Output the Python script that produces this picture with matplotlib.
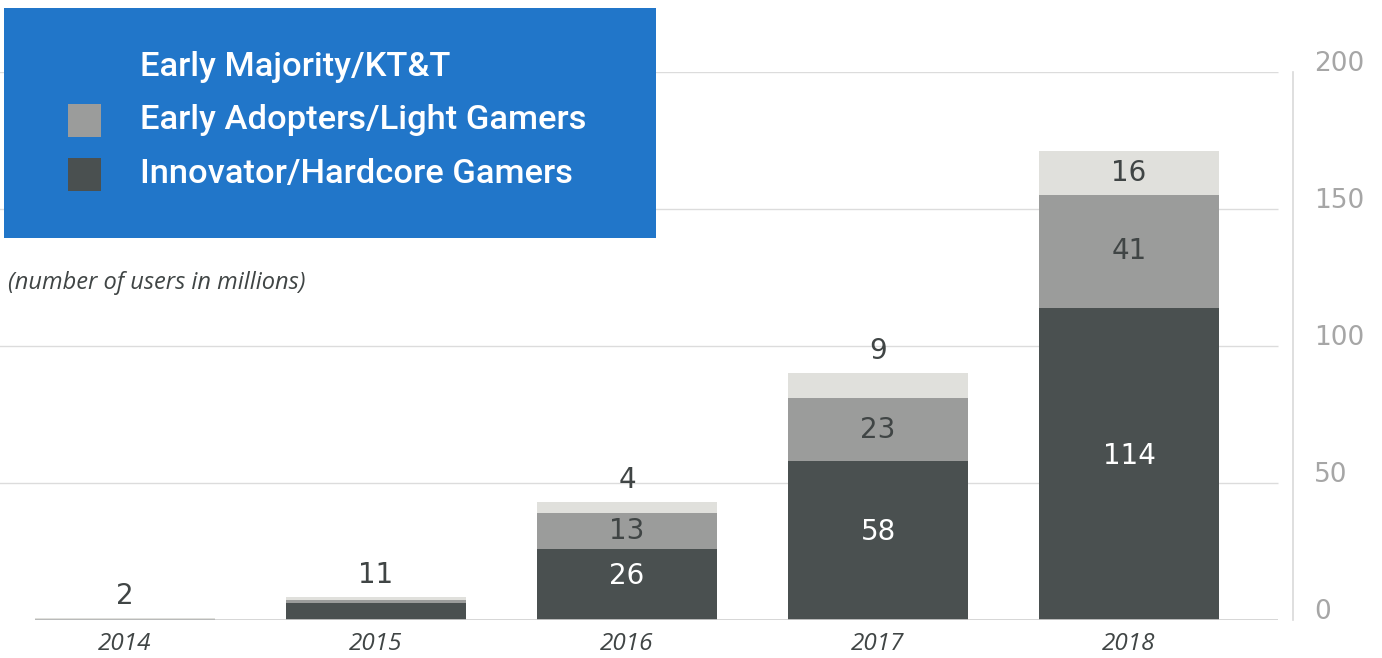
import matplotlib
matplotlib.use("Agg")
import matplotlib.pyplot as plt
import matplotlib.transforms as mtransforms
from matplotlib.patches import Rectangle

# ---- data (millions of users) -----------------------------------------------
years = ["2014", "2015", "2016", "2017", "2018"]
innovators = [0.3, 6.2, 26, 58, 114]
early_adopters = [0.2, 1.2, 13, 23, 41]
early_majority = [0.1, 1.0, 4, 9, 16]
top_labels = ["2", "11", "4", "9", "16"]
series_names = ["Early Majority/KT&T", "Early Adopters/Light Gamers", "Innovator/Hardcore Gamers"]
yticks = [0, 50, 100, 150, 200]

DARK = "#4a5050"
GRAY = "#9b9c9b"
LIGHT = "#e0e0dc"
BLUE = "#2176c9"
TEXT = "#404545"
NUM_FONT = "DejaVu Sans"

W, H = 1382, 658
fig = plt.figure(figsize=(W / 100, H / 100), dpi=100)
ax = fig.add_axes([0, (H - 620) / H, 1293 / W, (620 - 72) / H])

x = list(range(len(years)))
width = 0.72
bottom2 = innovators
bottom3 = [a + b for a, b in zip(innovators, early_adopters)]
totals = [a + b for a, b in zip(bottom3, early_majority)]

ax.bar(x, innovators, width, color=DARK, zorder=3)
ax.bar(x, early_adopters, width, bottom=bottom2, color=GRAY, zorder=3)
ax.bar(x, early_majority, width, bottom=bottom3, color=LIGHT, zorder=3)

ax.set_xlim(-0.498, 4.653)
ax.set_ylim(0, 200)

# gridlines stop short of the right axis line
grid_end = 4.594
ax.hlines(yticks[1:], -0.6, grid_end, color="#dcdcdc", lw=1, zorder=1)
ax.hlines(0, x[0] - width / 2, grid_end, color="#d0d0d0", lw=1.2, zorder=4)

# segment labels
for i in x:
    if innovators[i] >= 10:
        ax.text(i, innovators[i] / 2 + 3, str(innovators[i]), ha="center", va="center",
                color="white", fontsize=20, family=NUM_FONT, zorder=5)
    if early_adopters[i] >= 10:
        ax.text(i, bottom2[i] + early_adopters[i] / 2, str(early_adopters[i]), ha="center",
                va="center", color=TEXT, fontsize=20, family=NUM_FONT, zorder=5)
    if early_majority[i] >= 12:
        ax.text(i, bottom3[i] + early_majority[i] / 2, top_labels[i], ha="center",
                va="center", color=TEXT, fontsize=20, family=NUM_FONT, zorder=5)
    else:
        ax.annotate(top_labels[i], (i, totals[i]), xytext=(0, 6), textcoords="offset points",
                    ha="center", va="bottom", color=TEXT, fontsize=20,
                    family=NUM_FONT, zorder=5)

# axes styling
for side in ["top", "left", "bottom"]:
    ax.spines[side].set_visible(False)
ax.spines["right"].set_color("#d9d9d9")
ax.spines["right"].set_linewidth(1.2)
ax.yaxis.tick_right()
ax.set_yticks(yticks)
ax.tick_params(axis="y", length=0, pad=15, labelsize=19, labelcolor="#a6a6a6")
offset = mtransforms.ScaledTranslation(0, 8 / 72, fig.dpi_scale_trans)
for lab in ax.get_yticklabels():
    lab.set_family(NUM_FONT)
    lab.set_transform(lab.get_transform() + offset)

ax.set_xticks(x)
ax.set_xticklabels(years)
ax.tick_params(axis="x", length=0, pad=9, labelsize=17.5, labelcolor=TEXT)
for lab in ax.get_xticklabels():
    lab.set_family("Open Sans")
    lab.set_style("italic")

# ---- legend box ---------------------------------------------------------------
fig.add_artist(Rectangle((4 / W, 1 - 238 / H), 652 / W, 230 / H, transform=fig.transFigure,
                         facecolor=BLUE, edgecolor="none", zorder=10))
legend_y = [67, 120, 174]
legend_colors = [BLUE, GRAY, DARK]
for name, yy, col in zip(series_names, legend_y, legend_colors):
    fig.add_artist(Rectangle((68 / W, 1 - (yy + 17) / H), 33 / W, 33 / H,
                             transform=fig.transFigure, facecolor=col, edgecolor="none",
                             zorder=11))
    fig.text(140 / W, 1 - yy / H, name, ha="left", va="center", color="white", fontsize=24.8,
             family="Roboto", weight="medium", zorder=12)

fig.text(8 / W, 1 - 283 / H, "(number of users in millions)", ha="left", va="center",
         color=TEXT, fontsize=17, family="Open Sans", style="italic")

fig.savefig("out.png", dpi=100)
